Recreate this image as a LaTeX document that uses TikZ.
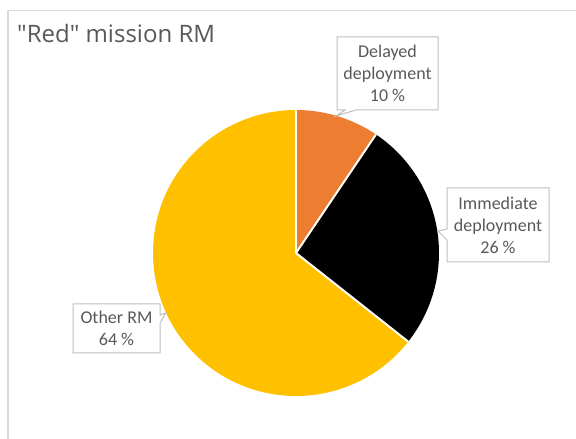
\documentclass[tikz,border=0pt]{standalone}
\usepackage{fontspec}
\setmainfont{Carlito}
\newfontfamily\titlefont{Open Sans}
\definecolor{framegrey}{HTML}{D9D9D9}
\definecolor{boxgrey}{HTML}{BFBFBF}
\definecolor{textgrey}{HTML}{595959}
\definecolor{sliceorange}{HTML}{ED7D31}
\definecolor{slicegold}{HTML}{FFC000}
\tikzset{
  slice/.style={draw=white, line width=2pt, line join=round},
  callout/.style={draw=boxgrey, fill=white, line width=1pt, line join=miter},
  lbl/.style={text=textgrey, align=center, inner sep=0pt,
    font=\fontsize{18}{22}\selectfont},
}
\begin{document}
\begin{tikzpicture}[x=1pt,y=1pt]
\useasboundingbox (0,0) rectangle (576,439);
\fill[white] (0,0) rectangle (576,439);
% chart area border (top and left edges visible)
\draw[framegrey, line width=1.5pt] (8,-2) -- (8,428.5) -- (578,428.5);
% title
\node[anchor=base west, inner sep=0pt, text=textgrey,
  font=\titlefont\fontsize{24}{28}\selectfont] (title) at (17,396) {"Red" mission RM};
% pie
\coordinate (c) at (296,186);
\def\R{143}
\fill[slicegold]   (c) -- ++(-38.3:\R) arc[start angle=-38.3, end angle=-270, radius=\R] -- cycle;
\fill[black]       (c) -- ++(56:\R) arc[start angle=56, end angle=-38.3, radius=\R] -- cycle;
\fill[sliceorange] (c) -- ++(90:\R) arc[start angle=90, end angle=56, radius=\R] -- cycle;
\draw[slice] (c) -- ++(90:\R);
\draw[slice] (c) -- ++(56:\R);
\draw[slice] (c) -- ++(-38.3:\R);
% callouts
\draw[callout] (337,402) -- (438,402) -- (438,329) -- (356,329) -- (336,323) -- (345,329) -- (337,329) -- cycle;
\node[lbl] (delayed) at (387.5,365.5) {Delayed\\deployment\\10~\%};
\draw[callout] (447,251) -- (549,251) -- (549,177) -- (447,177) -- (447,199) -- (438,208) -- (447,210) -- cycle;
\node[lbl] (immediate) at (498,214) {Immediate\\deployment\\26~\%};
\draw[callout] (73,135) -- (160,135) -- (160,124) -- (166,126) -- (160,116) -- (160,86) -- (73,86) -- cycle;
\node[lbl] (other) at (116.5,110.5) {Other RM\\64~\%};
\end{tikzpicture}
\end{document}
